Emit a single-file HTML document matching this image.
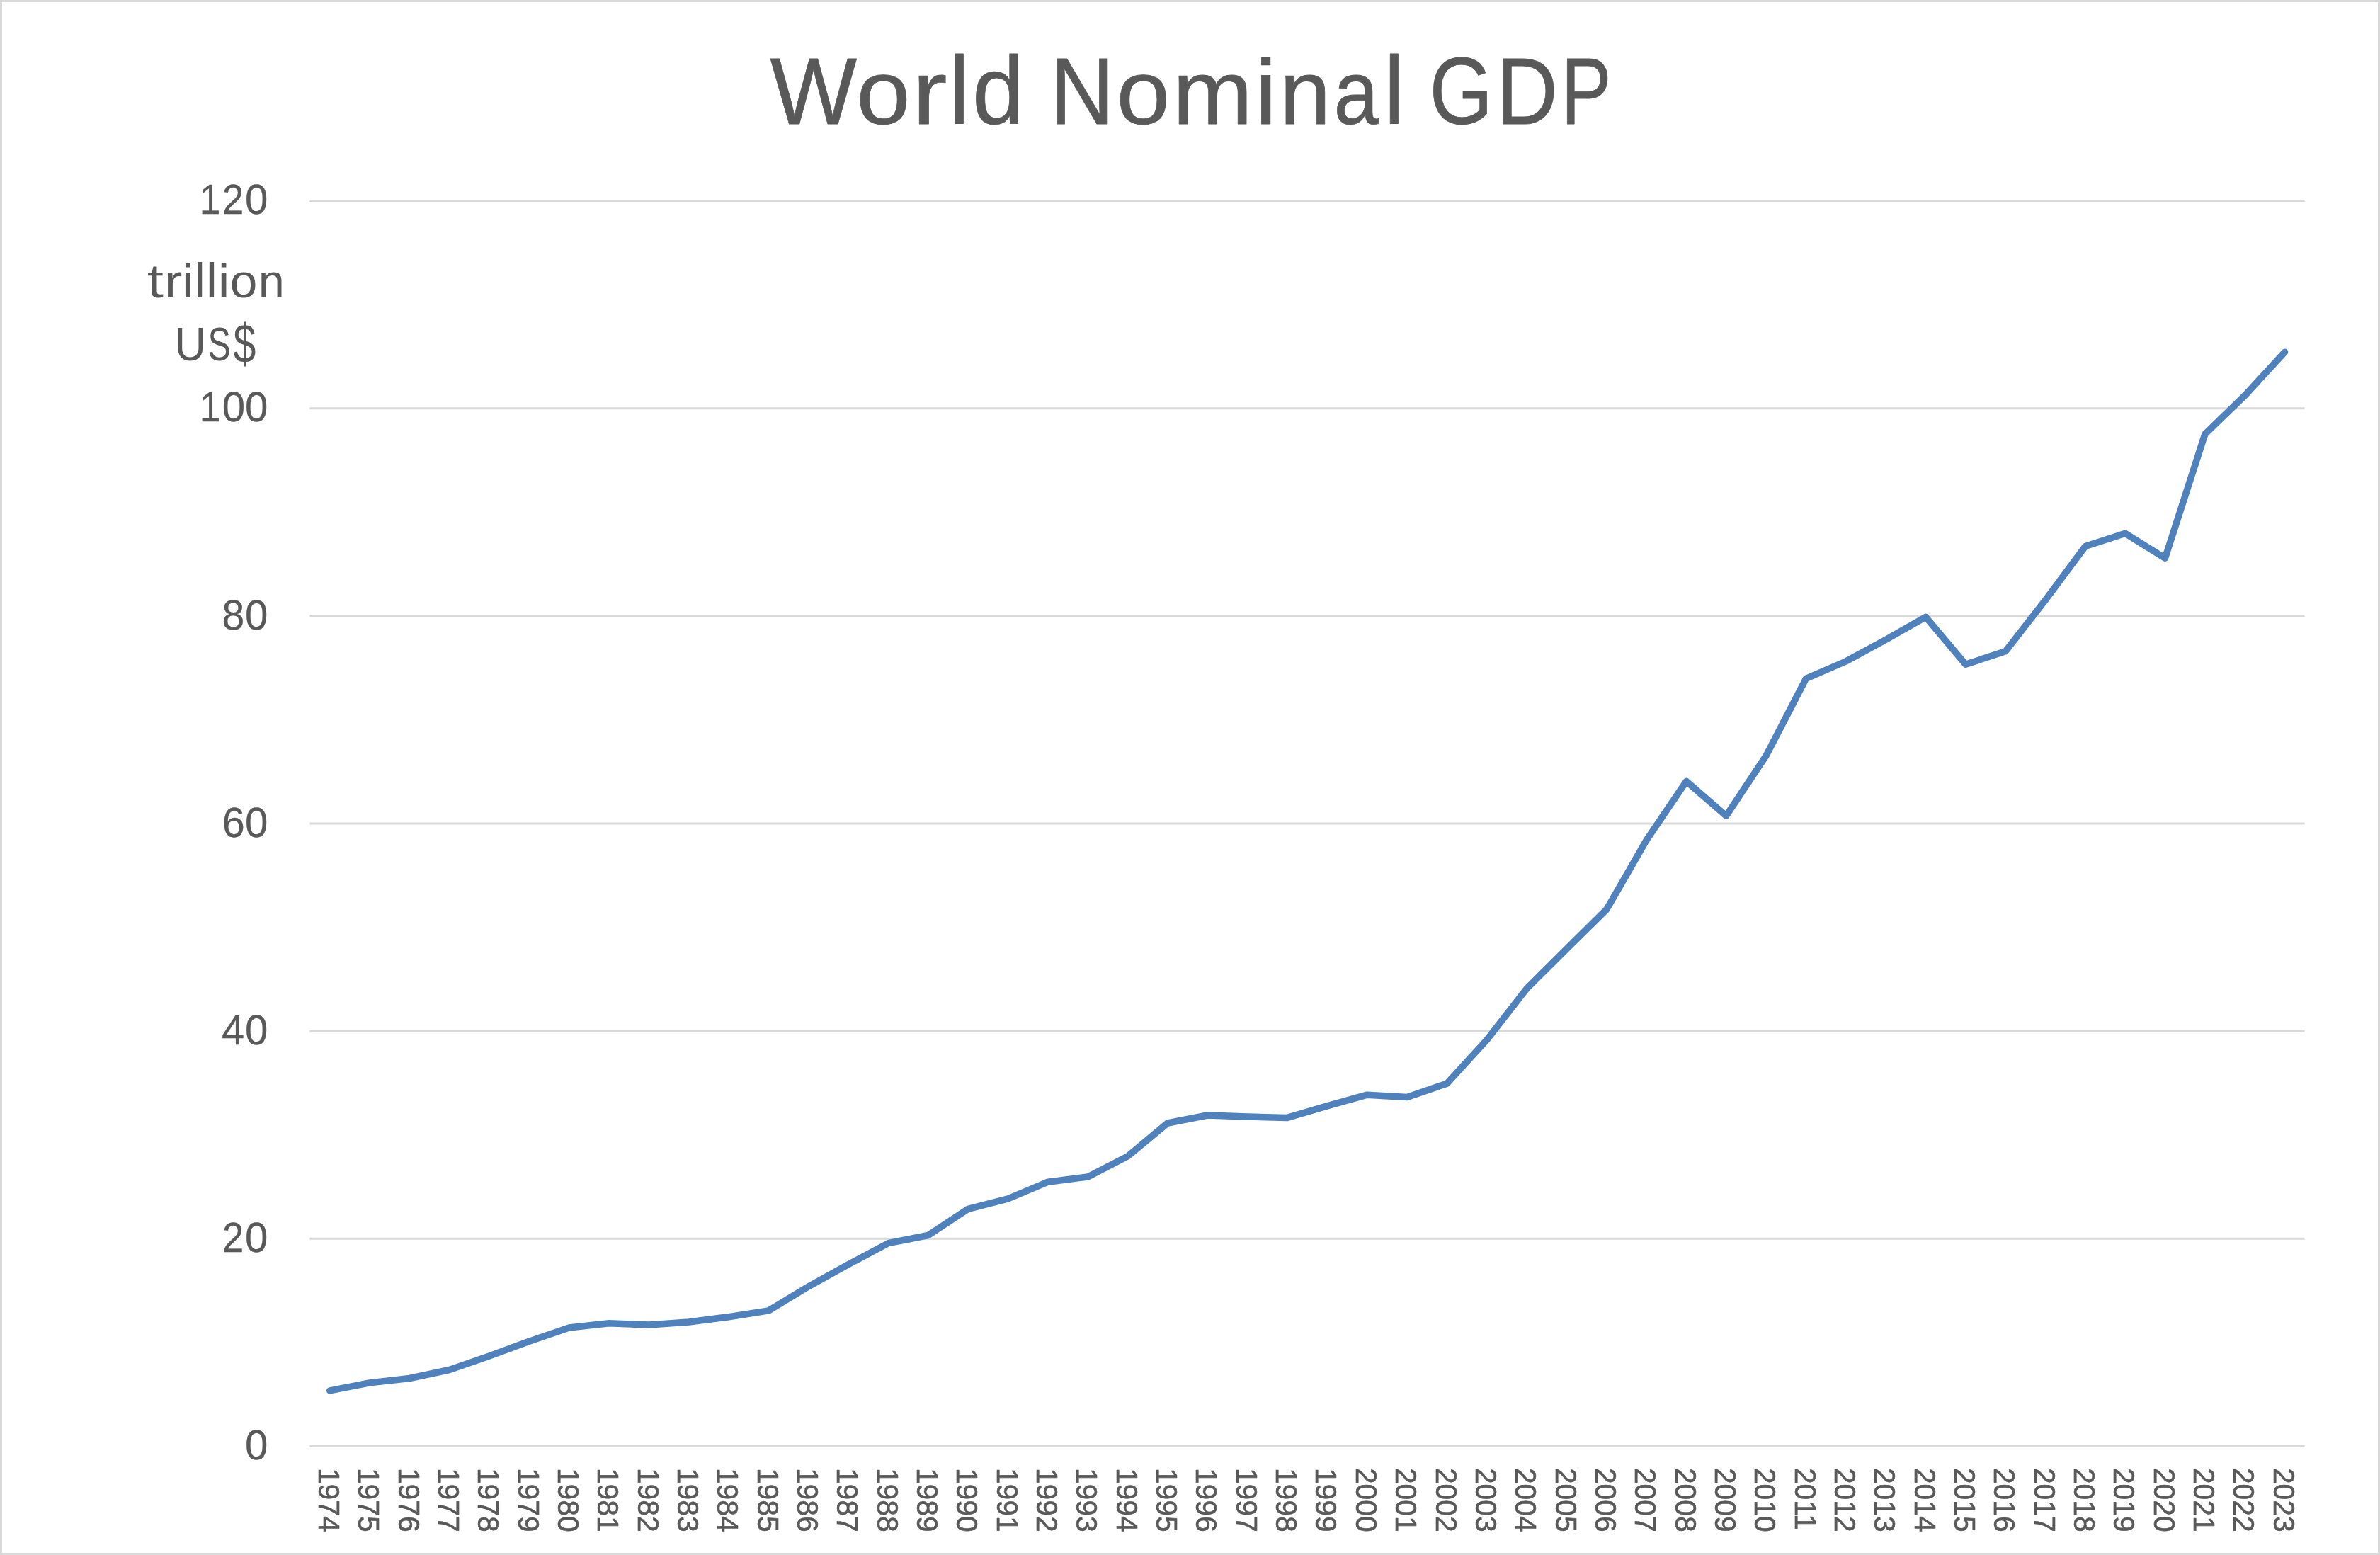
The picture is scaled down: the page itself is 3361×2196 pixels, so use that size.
<!DOCTYPE html>
<html><head><meta charset="utf-8"><title>World Nominal GDP</title>
<style>
html,body{margin:0;padding:0;background:#fff;}
body{width:3361px;height:2196px;overflow:hidden;position:relative;font-family:"Liberation Sans",sans-serif;}
svg{position:absolute;left:0;top:0;display:block;will-change:transform;}
text{font-family:"Liberation Sans",sans-serif;fill:#595959;}
</style></head><body>
<svg width="3361" height="2196" viewBox="0 0 3361 2196">
<rect x="0" y="0" width="3361" height="2196" fill="#ffffff"/>
<rect x="1.5" y="1.5" width="3358" height="2193" fill="none" stroke="#d9d9d9" stroke-width="3"/>
<g stroke="#d9d9d9" stroke-width="3" fill="none">
<line x1="437.5" y1="2042.50" x2="3254.7" y2="2042.50"/>
<line x1="437.5" y1="1749.33" x2="3254.7" y2="1749.33"/>
<line x1="437.5" y1="1456.17" x2="3254.7" y2="1456.17"/>
<line x1="437.5" y1="1163.00" x2="3254.7" y2="1163.00"/>
<line x1="437.5" y1="869.83" x2="3254.7" y2="869.83"/>
<line x1="437.5" y1="576.67" x2="3254.7" y2="576.67"/>
<line x1="437.5" y1="283.50" x2="3254.7" y2="283.50"/>
</g>
<g font-size="136" stroke="#595959" stroke-width="0.8" stroke-linejoin="round" aria-label="World Nominal GDP">
<text transform="translate(1087.51 175.20) scale(0.9555 0.9850)">W</text>
<text transform="translate(1209.24 175.20) scale(1.0090 0.9456)">o</text>
<text transform="translate(1288.05 175.20) scale(1.0948 0.9456)">r</text>
<text transform="translate(1340.22 174.30) scale(0.9566 1.0000)">l</text>
<text transform="translate(1373.06 174.30) scale(0.9684 1.0000)">d</text>
<text transform="translate(1482.94 175.20) scale(0.9170 0.9850)">N</text>
<text transform="translate(1576.48 175.20) scale(1.0013 0.9456)">o</text>
<text transform="translate(1655.87 175.20) scale(1.0001 0.9456)">m</text>
<text transform="translate(1771.90 175.20) scale(1.0350 0.9600)">i</text>
<text transform="translate(1807.06 175.20) scale(0.9544 0.9456)">n</text>
<text transform="translate(1883.60 175.20) scale(0.8376 0.9456)">a</text>
<text transform="translate(1954.38 174.30) scale(0.9488 1.0000)">l</text>
<text transform="translate(2018.54 175.20) scale(0.8484 0.9850)">G</text>
<text transform="translate(2113.21 175.20) scale(0.8826 0.9850)">D</text>
<text transform="translate(2204.46 175.20) scale(0.7843 0.9850)">P</text>
</g>
<g font-size="67" aria-label="trillion">
<text transform="translate(207.64 419.70) scale(1.2449 1.0000)">t</text>
<text transform="translate(231.77 419.70) scale(1.1522 1.0000)">r</text>
<text transform="translate(256.82 419.70) scale(1.1548 1.0000)">i</text>
<text transform="translate(274.25 419.70) scale(1.0529 1.0300)">l</text>
<text transform="translate(290.97 419.70) scale(1.0699 1.0300)">l</text>
<text transform="translate(307.68 419.70) scale(1.1208 1.0000)">i</text>
<text transform="translate(324.68 419.70) scale(1.0368 1.0000)">o</text>
<text transform="translate(364.68 419.70) scale(0.9943 1.0000)">n</text>
</g>
<g font-size="67" aria-label="US$">
<text transform="translate(246.69 508.80) scale(0.9120 1.0000)">U</text>
<text transform="translate(293.60 508.80) scale(0.7233 1.0000)">S</text>
<text transform="translate(329.49 512.13) scale(0.8544 1.1559)">$</text>
</g>
<g font-size="58.5" stroke="#595959" stroke-width="0.3" stroke-linejoin="round" aria-label="0">
<text transform="translate(345.98 2061.17) scale(0.9942 1.0000)">0</text>
</g>
<g font-size="58.5" stroke="#595959" stroke-width="0.3" stroke-linejoin="round" aria-label="20">
<text transform="translate(314.00 1768.00) scale(0.9313 1.0000)">2</text>
<text transform="translate(345.98 1768.00) scale(0.9942 1.0000)">0</text>
</g>
<g font-size="58.5" stroke="#595959" stroke-width="0.3" stroke-linejoin="round" aria-label="40">
<text transform="translate(313.12 1474.84) scale(0.9873 1.0000)">4</text>
<text transform="translate(345.98 1474.84) scale(0.9942 1.0000)">0</text>
</g>
<g font-size="58.5" stroke="#595959" stroke-width="0.3" stroke-linejoin="round" aria-label="60">
<text transform="translate(313.63 1181.67) scale(0.9819 1.0000)">6</text>
<text transform="translate(345.98 1181.67) scale(0.9942 1.0000)">0</text>
</g>
<g font-size="58.5" stroke="#595959" stroke-width="0.3" stroke-linejoin="round" aria-label="80">
<text transform="translate(313.46 888.50) scale(0.9766 1.0000)">8</text>
<text transform="translate(345.98 888.50) scale(0.9942 1.0000)">0</text>
</g>
<g font-size="58.5" stroke="#595959" stroke-width="0.3" stroke-linejoin="round" aria-label="100">
<text transform="translate(281.87 595.34) scale(0.9129 1.0000)">1</text>
<text transform="translate(313.78 595.34) scale(0.9942 1.0000)">0</text>
<text transform="translate(345.98 595.34) scale(0.9942 1.0000)">0</text>
</g>
<g font-size="58.5" stroke="#595959" stroke-width="0.3" stroke-linejoin="round" aria-label="120">
<text transform="translate(281.87 302.17) scale(0.9129 1.0000)">1</text>
<text transform="translate(314.00 302.17) scale(0.9313 1.0000)">2</text>
<text transform="translate(345.98 302.17) scale(0.9942 1.0000)">0</text>
</g>
<g font-size="42" stroke="#595959" stroke-width="0.6" stroke-linejoin="round">
<text transform="translate(449.87 2072.90) rotate(90) scale(0.9720 1.0300)">1974</text>
<text transform="translate(506.22 2072.90) rotate(90) scale(0.9720 1.0300)">1975</text>
<text transform="translate(562.56 2072.90) rotate(90) scale(0.9720 1.0300)">1976</text>
<text transform="translate(618.90 2072.90) rotate(90) scale(0.9720 1.0300)">1977</text>
<text transform="translate(675.25 2072.90) rotate(90) scale(0.9720 1.0300)">1978</text>
<text transform="translate(731.59 2072.90) rotate(90) scale(0.9720 1.0300)">1979</text>
<text transform="translate(787.94 2072.90) rotate(90) scale(0.9720 1.0300)">1980</text>
<text transform="translate(844.28 2072.90) rotate(90) scale(0.9720 1.0300)">1981</text>
<text transform="translate(900.62 2072.90) rotate(90) scale(0.9720 1.0300)">1982</text>
<text transform="translate(956.97 2072.90) rotate(90) scale(0.9720 1.0300)">1983</text>
<text transform="translate(1013.31 2072.90) rotate(90) scale(0.9720 1.0300)">1984</text>
<text transform="translate(1069.66 2072.90) rotate(90) scale(0.9720 1.0300)">1985</text>
<text transform="translate(1126.00 2072.90) rotate(90) scale(0.9720 1.0300)">1986</text>
<text transform="translate(1182.34 2072.90) rotate(90) scale(0.9720 1.0300)">1987</text>
<text transform="translate(1238.69 2072.90) rotate(90) scale(0.9720 1.0300)">1988</text>
<text transform="translate(1295.03 2072.90) rotate(90) scale(0.9720 1.0300)">1989</text>
<text transform="translate(1351.38 2072.90) rotate(90) scale(0.9720 1.0300)">1990</text>
<text transform="translate(1407.72 2072.90) rotate(90) scale(0.9720 1.0300)">1991</text>
<text transform="translate(1464.06 2072.90) rotate(90) scale(0.9720 1.0300)">1992</text>
<text transform="translate(1520.41 2072.90) rotate(90) scale(0.9720 1.0300)">1993</text>
<text transform="translate(1576.75 2072.90) rotate(90) scale(0.9720 1.0300)">1994</text>
<text transform="translate(1633.10 2072.90) rotate(90) scale(0.9720 1.0300)">1995</text>
<text transform="translate(1689.44 2072.90) rotate(90) scale(0.9720 1.0300)">1996</text>
<text transform="translate(1745.78 2072.90) rotate(90) scale(0.9720 1.0300)">1997</text>
<text transform="translate(1802.13 2072.90) rotate(90) scale(0.9720 1.0300)">1998</text>
<text transform="translate(1858.47 2072.90) rotate(90) scale(0.9720 1.0300)">1999</text>
<text transform="translate(1914.82 2072.90) rotate(90) scale(0.9720 1.0300)">2000</text>
<text transform="translate(1971.16 2072.90) rotate(90) scale(0.9720 1.0300)">2001</text>
<text transform="translate(2027.50 2072.90) rotate(90) scale(0.9720 1.0300)">2002</text>
<text transform="translate(2083.85 2072.90) rotate(90) scale(0.9720 1.0300)">2003</text>
<text transform="translate(2140.19 2072.90) rotate(90) scale(0.9720 1.0300)">2004</text>
<text transform="translate(2196.54 2072.90) rotate(90) scale(0.9720 1.0300)">2005</text>
<text transform="translate(2252.88 2072.90) rotate(90) scale(0.9720 1.0300)">2006</text>
<text transform="translate(2309.22 2072.90) rotate(90) scale(0.9720 1.0300)">2007</text>
<text transform="translate(2365.57 2072.90) rotate(90) scale(0.9720 1.0300)">2008</text>
<text transform="translate(2421.91 2072.90) rotate(90) scale(0.9720 1.0300)">2009</text>
<text transform="translate(2478.26 2072.90) rotate(90) scale(0.9720 1.0300)">2010</text>
<text transform="translate(2534.60 2072.90) rotate(90) scale(0.9720 1.0300)">2011</text>
<text transform="translate(2590.94 2072.90) rotate(90) scale(0.9720 1.0300)">2012</text>
<text transform="translate(2647.29 2072.90) rotate(90) scale(0.9720 1.0300)">2013</text>
<text transform="translate(2703.63 2072.90) rotate(90) scale(0.9720 1.0300)">2014</text>
<text transform="translate(2759.98 2072.90) rotate(90) scale(0.9720 1.0300)">2015</text>
<text transform="translate(2816.32 2072.90) rotate(90) scale(0.9720 1.0300)">2016</text>
<text transform="translate(2872.66 2072.90) rotate(90) scale(0.9720 1.0300)">2017</text>
<text transform="translate(2929.01 2072.90) rotate(90) scale(0.9720 1.0300)">2018</text>
<text transform="translate(2985.35 2072.90) rotate(90) scale(0.9720 1.0300)">2019</text>
<text transform="translate(3041.70 2072.90) rotate(90) scale(0.9720 1.0300)">2020</text>
<text transform="translate(3098.04 2072.90) rotate(90) scale(0.9720 1.0300)">2021</text>
<text transform="translate(3154.38 2072.90) rotate(90) scale(0.9720 1.0300)">2022</text>
<text transform="translate(3210.73 2072.90) rotate(90) scale(0.9720 1.0300)">2023</text>
</g>
<polyline points="465.7,1963.8 522.0,1952.9 578.4,1946.5 634.7,1934.5 691.0,1915.0 747.4,1894.2 803.7,1875.0 860.1,1868.8 916.4,1871.1 972.8,1867.0 1029.1,1859.7 1085.5,1850.9 1141.8,1816.8 1198.1,1785.7 1254.5,1755.6 1310.8,1744.5 1367.2,1707.3 1423.5,1692.8 1479.9,1669.2 1536.2,1662.0 1592.6,1632.9 1648.9,1586.0 1705.2,1575.0 1761.6,1577.1 1817.9,1578.4 1874.3,1561.9 1930.6,1546.2 1987.0,1549.4 2043.3,1530.2 2099.6,1468.6 2156.0,1396.2 2212.3,1340.2 2268.7,1284.5 2325.0,1186.7 2381.4,1103.3 2437.7,1152.2 2494.1,1067.1 2550.4,958.4 2606.7,934.0 2663.1,903.3 2719.4,871.3 2775.8,938.3 2832.1,919.8 2888.5,847.3 2944.8,771.6 3001.2,753.3 3057.5,788.2 3113.8,613.2 3170.2,558.5 3226.5,497.2" fill="none" stroke="#4f81bd" stroke-width="9.5" stroke-linecap="round" stroke-linejoin="round"/>
</svg>
</body></html>
